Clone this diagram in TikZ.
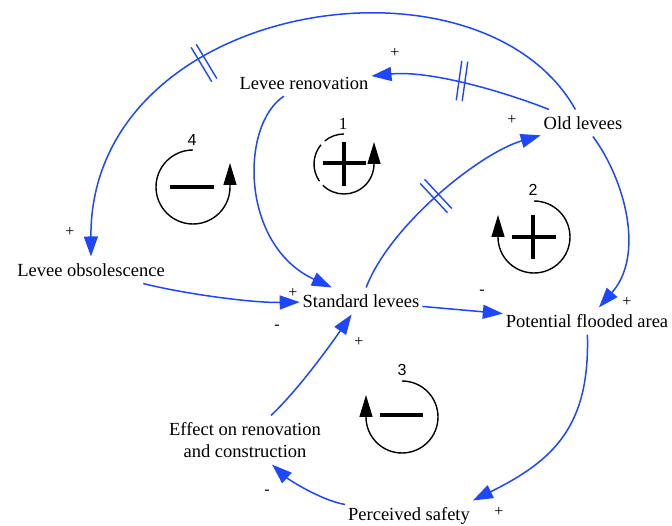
\documentclass[tikz,border=0pt]{standalone}
\usepackage{fontspec}
\setmainfont{Liberation Serif}
\newfontfamily\numfont{Liberation Sans}
\usetikzlibrary{arrows.meta}
\definecolor{linkblue}{RGB}{30,70,250}
\begin{document}
\begin{tikzpicture}[x=1pt,y=1pt,
  var/.style={inner xsep=3pt, inner ysep=7pt, outer sep=0pt, font=\fontsize{18.5}{22}\selectfont, align=center},
  link/.style={draw=linkblue, line width=1.5pt, -{Triangle[length=20pt,width=14pt]}},
  pol/.style={font=\fontsize{16}{18}\selectfont, inner sep=0pt},
  loopline/.style={draw=black, line width=1.4pt},
  loopbar/.style={draw=black, line width=3.2pt},
  looptip/.style={-{Triangle[length=22pt,width=13pt]}},
  lnum/.style={font=\numfont\fontsize{16}{18}\selectfont, inner sep=0pt},
  lnumserif/.style={font=\fontsize{17}{19}\selectfont, inner sep=0pt},
  hashmark/.pic={\draw[linkblue, line width=1.4pt] (-3,-20)--(-3,20) (3,-20)--(3,20);}
]
\useasboundingbox (0,0) rectangle (672,525);

% variables
\node[var] (LR) at (304,442) {Levee renovation};
\node[var] (OL) at (583,402) {Old levees};
\node[var] (LO) at (91,255) {Levee obsolescence};
\node[var] (SL) at (361,224) {Standard levees};
\node[var] (PF) at (587,204) {Potential flooded area};
\node[var] (ER) at (245,85) {Effect on renovation\\and construction};
\node[var] (PS) at (409,9) {Perceived safety};

% links
\draw[link] (OL) .. controls (505,433) and (430,455) .. (LR);
\draw[link] (OL) .. controls (480,585) and (90,525) .. (LO);
\draw[link] (OL) .. controls (625,345) and (645,270) .. (PF);
\draw[link] (LR) .. controls (240,400) and (240,280) .. (SL);
\draw[link] (LO) .. controls (180,232) and (250,222) .. (SL);
\draw[link] (SL) .. controls (390,300) and (480,372) .. (OL);
\draw[link] (SL) -- (PF);
\draw[link] (PF) .. controls (590,100) and (555,65) .. (PS.north east);
\draw[link] (PS) .. controls (320,25) and (288,46) .. (ER);
\draw[link] (ER) .. controls (298,135) and (329,178) .. (SL);

% delay marks
\pic[rotate=-8] at (462,444) {hashmark};
\pic[rotate=31] at (204,462) {hashmark};
\pic[rotate=43] at (436,329) {hashmark};

% polarities
\node[pol] (s1) at (395,472) {+};
\node[pol] (s2) at (70,293) {+};
\node[pol] (s3) at (512,405) {+};
\node[pol] (s4) at (293,232) {+};
\node[pol] (s5) at (277,198) {-};
\node[pol] (s6) at (359,183) {+};
\node[pol] (s7) at (482,233) {-};
\node[pol] (s8) at (627,223) {+};
\node[pol] (s9) at (499,13) {+};
\node[pol] (s10) at (267,33) {-};

% loop 4
\draw[loopline, looptip] (193,375) arc[start angle=90, end angle=360, radius=37] -- ++(0,24);
\draw[loopbar] (170,338) -- (214,338);
\node[lnum] (n4) at (192,385) {4};

% loop 1
\draw[loopline] (344,391) arc[start angle=90, end angle=130, radius=30];
\draw[loopline] ([shift={(344,361)}]140:30) arc[start angle=140, end angle=215, radius=30];
\draw[loopline, looptip] ([shift={(344,361)}]225:30) arc[start angle=225, end angle=360, radius=30] -- ++(0,22);
\draw[loopbar] (323,362) -- (366,362);
\draw[loopbar] (344,383) -- (344,339);
\node[lnumserif] (n1) at (343,401) {1};

% loop 2
\draw[loopline, looptip] (534,324) arc[start angle=90, end angle=-180, radius=36] -- ++(0,22);
\draw[loopbar] (512,288) -- (556,288);
\draw[loopbar] (533,310) -- (533,266);
\node[lnum] (n2) at (533,335) {2};

% loop 3
\draw[loopline, looptip] (402,144) arc[start angle=90, end angle=-180, radius=36] -- ++(0,22);
\draw[loopbar] (380,110) -- (423,110);
\node[lnum] (n3) at (402,155) {3};
\end{tikzpicture}
\end{document}
